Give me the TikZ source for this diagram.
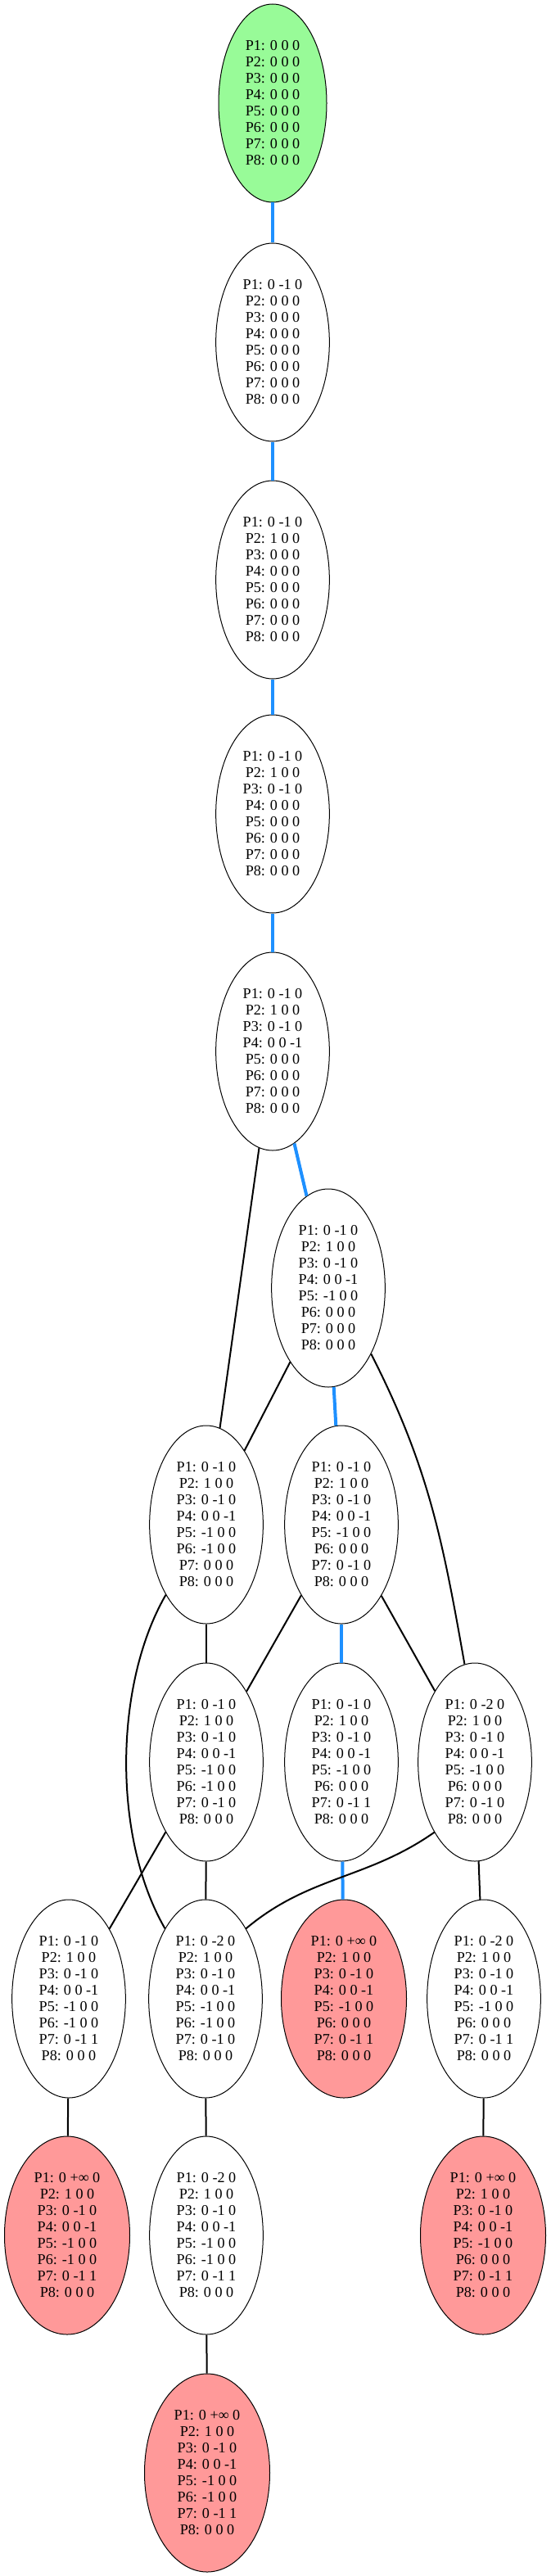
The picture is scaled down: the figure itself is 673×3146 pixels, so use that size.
\documentclass[tikz,border=0pt]{standalone}
\usepackage{fontspec}
\setmainfont{Liberation Serif}
\usepackage{xcolor}
\usepackage{tikz}
\usetikzlibrary{shapes,positioning,calc}

\definecolor{rootgreen}{HTML}{98FB98}
\definecolor{deadred}{HTML}{FF9999}
\definecolor{pathblue}{HTML}{1E90FF}

% eight rows of a state
\newcommand{\pvec}[8]{P1: #1\\P2: #2\\P3: #3\\P4: #4\\P5: #5\\P6: #6\\P7: #7\\P8: #8}

\tikzset{
    state/.style={ellipse, draw, line width=0.75pt, minimum width=104pt, minimum height=181.5pt,
        inner sep=1pt, align=center, font=\fontsize{13.6}{15}\selectfont},
    rootstate/.style={state, fill=rootgreen, minimum width=99pt},
    deadstate/.style={state, fill=deadred, minimum width=114.75pt},
    mainedge/.style={line width=3pt, pathblue},
    sideedge/.style={line width=1.5pt, black}
}

\begin{document}
\begin{tikzpicture}[x=0.75pt, y=0.75pt]
    \useasboundingbox (0,0) rectangle (673,-3146);

    % search states
    \node[rootstate] (s0) at (333,-126) {\pvec{0 0 0}{0 0 0}{0 0 0}{0 0 0}{0 0 0}{0 0 0}{0 0 0}{0 0 0}};
    \node[state] (s1) at (333,-418) {\pvec{0 -1 0}{0 0 0}{0 0 0}{0 0 0}{0 0 0}{0 0 0}{0 0 0}{0 0 0}};
    \node[state] (s2) at (333,-708) {\pvec{0 -1 0}{1 0 0}{0 0 0}{0 0 0}{0 0 0}{0 0 0}{0 0 0}{0 0 0}};
    \node[state] (s3) at (333,-994) {\pvec{0 -1 0}{1 0 0}{0 -1 0}{0 0 0}{0 0 0}{0 0 0}{0 0 0}{0 0 0}};
    \node[state] (s4) at (333,-1284) {\pvec{0 -1 0}{1 0 0}{0 -1 0}{0 0 -1}{0 0 0}{0 0 0}{0 0 0}{0 0 0}};
    \node[state] (s5) at (401,-1573) {\pvec{0 -1 0}{1 0 0}{0 -1 0}{0 0 -1}{-1 0 0}{0 0 0}{0 0 0}{0 0 0}};
    \node[state] (s6) at (252,-1862) {\pvec{0 -1 0}{1 0 0}{0 -1 0}{0 0 -1}{-1 0 0}{-1 0 0}{0 0 0}{0 0 0}};
    \node[state] (s7) at (417,-1862) {\pvec{0 -1 0}{1 0 0}{0 -1 0}{0 0 -1}{-1 0 0}{0 0 0}{0 -1 0}{0 0 0}};
    \node[state] (s10) at (252,-2152) {\pvec{0 -1 0}{1 0 0}{0 -1 0}{0 0 -1}{-1 0 0}{-1 0 0}{0 -1 0}{0 0 0}};
    \node[state] (s9) at (417,-2152) {\pvec{0 -1 0}{1 0 0}{0 -1 0}{0 0 -1}{-1 0 0}{0 0 0}{0 -1 1}{0 0 0}};
    \node[state] (s8) at (580,-2152) {\pvec{0 -2 0}{1 0 0}{0 -1 0}{0 0 -1}{-1 0 0}{0 0 0}{0 -1 0}{0 0 0}};
    \node[state] (s11) at (84,-2441) {\pvec{0 -1 0}{1 0 0}{0 -1 0}{0 0 -1}{-1 0 0}{-1 0 0}{0 -1 1}{0 0 0}};
    \node[state] (s12) at (251,-2441) {\pvec{0 -2 0}{1 0 0}{0 -1 0}{0 0 -1}{-1 0 0}{-1 0 0}{0 -1 0}{0 0 0}};
    \node[deadstate] (s13) at (420,-2441) {\pvec{0 +∞ 0}{1 0 0}{0 -1 0}{0 0 -1}{-1 0 0}{0 0 0}{0 -1 1}{0 0 0}};
    \node[state] (s14) at (591,-2441) {\pvec{0 -2 0}{1 0 0}{0 -1 0}{0 0 -1}{-1 0 0}{0 0 0}{0 -1 1}{0 0 0}};
    \node[deadstate] (s15) at (82,-2730) {\pvec{0 +∞ 0}{1 0 0}{0 -1 0}{0 0 -1}{-1 0 0}{-1 0 0}{0 -1 1}{0 0 0}};
    \node[state] (s16) at (252,-2730) {\pvec{0 -2 0}{1 0 0}{0 -1 0}{0 0 -1}{-1 0 0}{-1 0 0}{0 -1 1}{0 0 0}};
    \node[deadstate] (s17) at (590,-2730) {\pvec{0 +∞ 0}{1 0 0}{0 -1 0}{0 0 -1}{-1 0 0}{0 0 0}{0 -1 1}{0 0 0}};
    \node[deadstate] (s18) at (253,-3020) {\pvec{0 +∞ 0}{1 0 0}{0 -1 0}{0 0 -1}{-1 0 0}{-1 0 0}{0 -1 1}{0 0 0}};

    % chosen path
    \foreach \a/\b in {s0/s1, s1/s2, s2/s3, s3/s4, s4/s5, s5/s7, s7/s9, s9/s13}
        \draw[mainedge] (\a) -- (\b);

    % other moves
    \foreach \a/\b in {s4/s6, s5/s6, s6/s10, s7/s10, s7/s8, s10/s11, s10/s12, s8/s14,
                       s11/s15, s12/s16, s14/s17, s16/s18}
        \draw[sideedge] (\a) -- (\b);
    \draw[sideedge] (s5.303) to[out=297, in=100] (s8.96);
    \draw[sideedge] (s6) to[out=240, in=120, looseness=0.8] (s12);
    \draw[sideedge] (s8.240) to[out=215, in=40] (s12.60);
\end{tikzpicture}
\end{document}
